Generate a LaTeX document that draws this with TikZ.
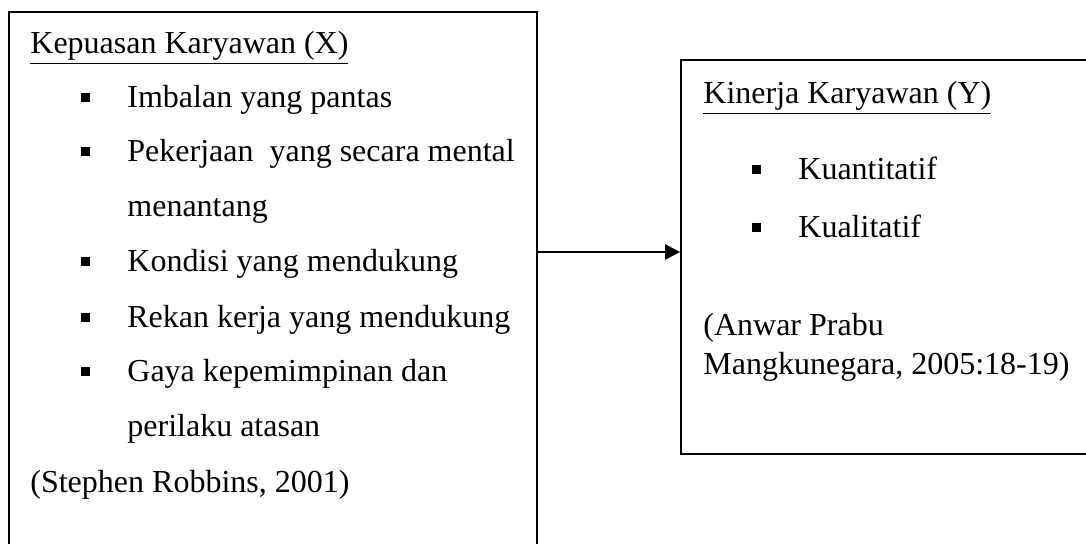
\documentclass[tikz,border=0pt]{standalone}
\usepackage{fontspec}
\setmainfont{Liberation Serif}
\usepackage{xcolor}
\usepackage{tikz}
\usetikzlibrary{arrows.meta, positioning, calc}
\newcommand{\kotak}{\rule[3pt]{4.5pt}{4.5pt}}
\newcommand{\butir}[1]{\makebox[23pt][l]{\kotak}#1}

\begin{document}
\begin{tikzpicture}[x=0.5pt,y=-0.5pt,
    teks/.style={anchor=base west,inner sep=0pt,
      font=\fontsize{16}{18.4}\selectfont},
    kotakbesar/.style={draw,line width=0.9pt,inner sep=0pt},
    panah/.style={-{Triangle[length=7.5pt,width=7.5pt]},line width=1.2pt}]
  \useasboundingbox (0,0) rectangle (1086,544);
  % kotak variabel
  \node[kotakbesar,minimum width=264pt,minimum height=274pt]
    (kiri) at (273,286) {};
  \node[kotakbesar,minimum width=203pt,minimum height=197pt]
    (kanan) at (884,257) {};
  % variabel X
  \node[teks] (judulX) at (30,54) {\underline{Kepuasan Karyawan (X)}};
  \node[teks] (x1) at (81,108) {\butir{Imbalan yang pantas}};
  \node[teks] (x2) at (81,162) {\butir{Pekerjaan\ \ yang secara mental}};
  \node[teks] (x2b) at (127,217) {menantang};
  \node[teks] (x3) at (81,272) {\butir{Kondisi yang mendukung}};
  \node[teks] (x4) at (81,328) {\butir{Rekan kerja yang mendukung}};
  \node[teks] (x5) at (81,382) {\butir{Gaya kepemimpinan dan}};
  \node[teks] (x5b) at (127,437) {perilaku atasan};
  \node[teks] (sumberX) at (30,493) {(Stephen Robbins, 2001)};
  % variabel Y
  \node[teks] (judulY) at (703,104) {\underline{Kinerja Karyawan (Y)}};
  \node[teks] (y1) at (752,180) {\butir{Kuantitatif}};
  \node[teks] (y2) at (752,238) {\butir{Kualitatif}};
  \node[teks] (sumberY1) at (703,336) {(Anwar Prabu};
  \node[teks] (sumberY2) at (703,375) {Mangkunegara, 2005:18-19)};
  % hubungan X ke Y
  \coordinate (tinggi) at (0,252);
  \draw[panah] (kiri.east |- tinggi) -- (kanan.west |- tinggi);
\end{tikzpicture}
\end{document}
